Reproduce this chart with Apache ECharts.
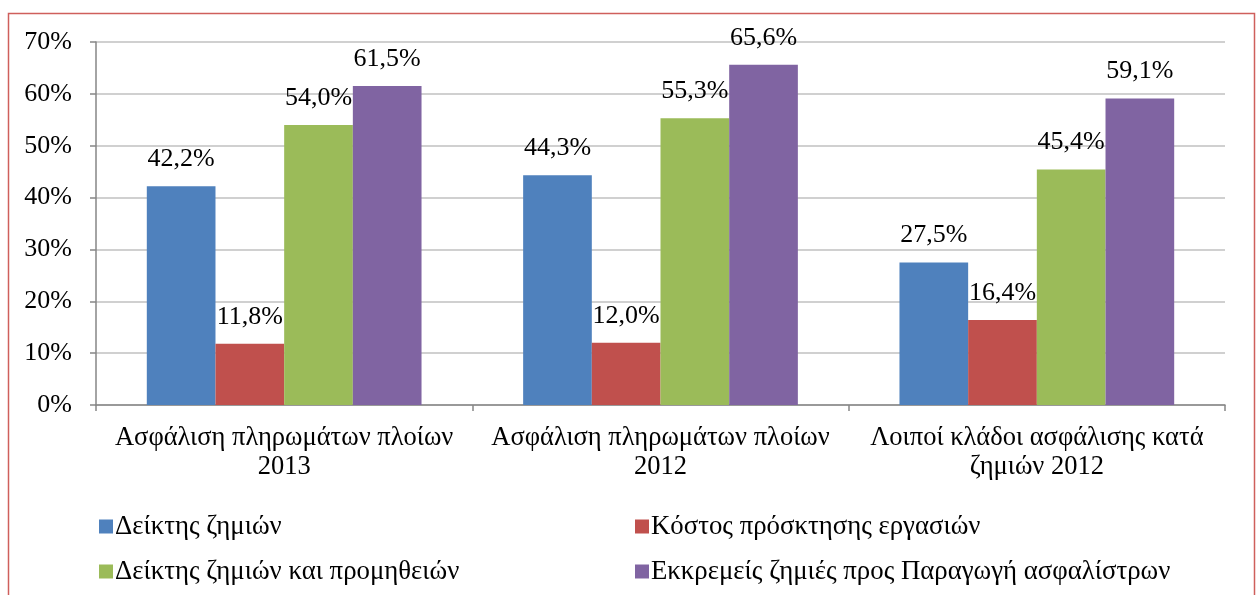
<!DOCTYPE html>
<html><head><meta charset="utf-8">
<script src="https://cdn.jsdelivr.net/npm/echarts@6/dist/echarts.min.js"></script>
<style>html,body{margin:0;padding:0;background:#fff}#c{width:1259px;height:595px}</style>
</head><body><div id="c"></div>
<script>
const categories = ['Ασφάλιση πληρωμάτων πλοίων\n2013', 'Ασφάλιση πληρωμάτων πλοίων\n2012', 'Λοιποί κλάδοι ασφάλισης κατά\nζημιών 2012'];
const seriesNames = ['Δείκτης ζημιών', 'Κόστος πρόσκτησης εργασιών', 'Δείκτης ζημιών και προμηθειών', 'Εκκρεμείς ζημιές προς Παραγωγή ασφαλίστρων'];
const lossRatio = [42.2, 44.3, 27.5];
const acquisitionCost = [11.8, 12.0, 16.4];
const lossCommRatio = [54.0, 55.3, 45.4];
const pendingClaims = [61.5, 65.6, 59.1];
const yTicks = [0, 10, 20, 30, 40, 50, 60, 70];
const colors = ['#4f81bd', '#c0504d', '#9bbb59', '#8064a2'];
const font = '"Liberation Serif", "Times New Roman", serif';
const FS = 26;
const fmt = v => v.toFixed(1).replace('.', ',') + '%';
const allData = [lossRatio, acquisitionCost, lossCommRatio, pendingClaims];
const chart = echarts.init(document.getElementById('c'));
const legPos = [[94, 508], [630, 508], [94, 553], [630, 553]];
chart.setOption({
  animation: false,
  textStyle: { fontFamily: font },
  graphic: [{ type: 'rect', shape: { x: 8.5, y: 13.5, width: 1246, height: 620 }, style: { fill: 'none', stroke: '#cf5f5c', lineWidth: 1.5 } }],
  grid: { left: 96, right: 34, top: 42, bottom: 190 },
  legend: seriesNames.map((n, i) => ({
    data: [n], left: legPos[i][0], top: legPos[i][1], itemWidth: 14, itemHeight: 14, itemGap: 4,
    icon: 'rect', textStyle: { fontFamily: font, fontSize: 26.8, color: '#000', padding: [0, 0, 0, -3] }
  })),
  xAxis: {
    type: 'category', data: categories,
    axisLine: { lineStyle: { color: '#868686', width: 1.5 } },
    axisTick: { show: true, length: 6, interval: 0, lineStyle: { color: '#868686', width: 1.5 } },
    axisLabel: { fontFamily: font, fontSize: 26.5, color: '#000', margin: 19, lineHeight: 29, interval: 0, hideOverlap: false }
  },
  yAxis: {
    type: 'value', min: 0, max: 70, interval: 10,
    axisLine: { show: true, lineStyle: { color: '#868686', width: 1.5 } },
    axisTick: { show: true, length: 6, lineStyle: { color: '#868686', width: 1.5 } },
    splitLine: { lineStyle: { color: '#c0c0c0', width: 1.5 } },
    axisLabel: { fontFamily: font, fontSize: FS, color: '#000', margin: 24,
      formatter: v => yTicks.includes(v) ? v + '%' : '' }
  },
  series: seriesNames.map((n, i) => ({
    name: n, type: 'bar', data: allData[i], barGap: '0%', barCategoryGap: '27%',
    itemStyle: { color: colors[i] },
    label: { show: true, position: 'top', distance: 14, fontFamily: font, fontSize: FS, color: '#000', formatter: p => fmt(p.value) }
  }))
});
</script></body></html>
